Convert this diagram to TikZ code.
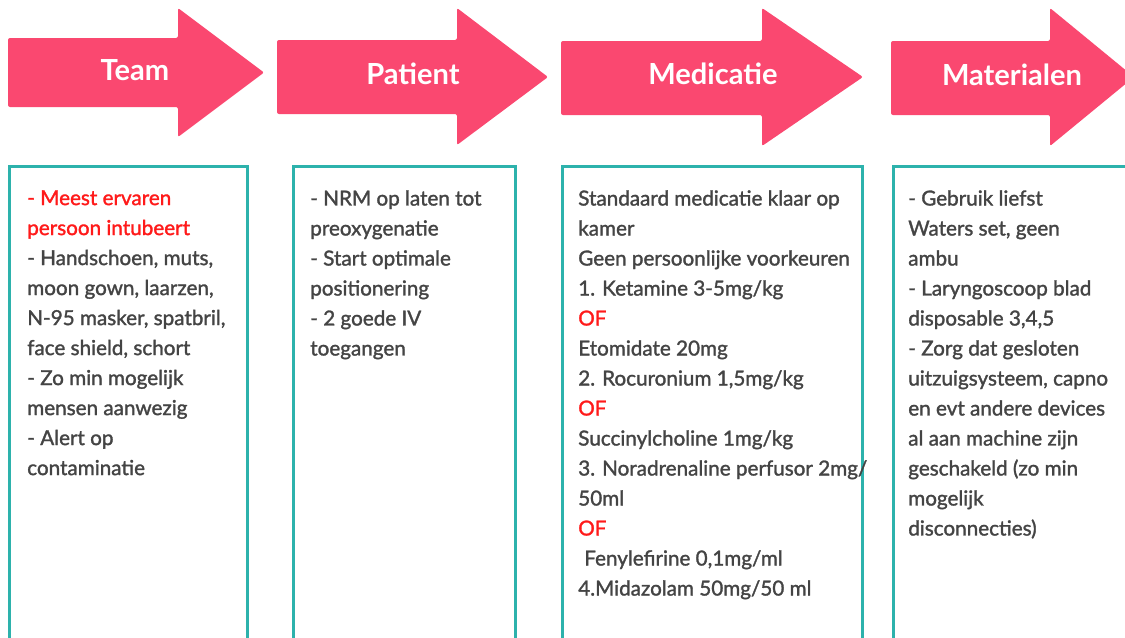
\documentclass[tikz,border=0pt]{standalone}
\usepackage{fontspec}
\setmainfont{Lato}
\newfontfamily\lijstfont{Lato}[FakeBold=1.5]
\usetikzlibrary{positioning}

\definecolor{pijl}{HTML}{FA4870}
\definecolor{kader}{HTML}{2DB2AC}
\definecolor{tekst}{HTML}{444444}
\definecolor{nadruk}{HTML}{FF1A1A}

\begin{document}
\begin{tikzpicture}[x=0.75pt, y=-0.75pt,
			stap/.style={fill=pijl, rounded corners=1.5pt},
			titel/.style={text=white, font=\bfseries\fontsize{21.8}{26}\selectfont, inner sep=0pt},
			kolom/.style={draw=kader, line width=2.25pt},
			lijst/.style={anchor=north west, align=left, text=tekst, inner sep=0pt,
				font=\lijstfont\fontsize{15.5}{22.5}\selectfont},
			]
			\useasboundingbox (0,0) rectangle (1125,637);
			\clip (0,0) rectangle (1125,637);
			
			%% ── Pijlen bovenaan ─────────────────────────────────────────────
			\fill[stap] (8,38) -- (178,38) -- (178,8) -- (264,72.5) -- (178,137) -- (178,107) -- (8,107) -- cycle;
			\fill[stap] (277,40) -- (457,40) -- (457,8) -- (548,77) -- (457,145) -- (457,114) -- (277,114) -- cycle;
			\fill[stap] (561,41) -- (762,41) -- (762,8) -- (863,77) -- (762,146) -- (762,115) -- (561,115) -- cycle;
			\fill[stap] (891,41) -- (1050,41) -- (1050,8) -- (1134,77) -- (1050,146) -- (1050,115) -- (891,115) -- cycle;
			
			\node[titel] (team)  at (135,70) {Team};
			\node[titel] (pat)   at (413,74) {Patient};
			\node[titel] (med)   at (713,74) {Medicatie};
			\node[titel] (mat)   at (1012,75) {Materialen};
			
			%% ── Kolommen ────────────────────────────────────────────────────
			\draw[kolom] (9,166) rectangle (247,680);
			\draw[kolom] (293,166) rectangle (515,680);
			\draw[kolom] (562,166) rectangle (862,680);
			\draw[kolom] (893,166) rectangle (1160,680);
			
			\node[lijst] (t1) at (27,190) {%
				\textcolor{nadruk}{- Meest ervaren}\\
				\textcolor{nadruk}{persoon intubeert}\\
				- Handschoen, muts,\\
				moon gown, laarzen,\\
				N-95 masker, spatbril,\\
				face shield, schort\\
				- Zo min mogelijk\\
				mensen aanwezig\\
				- Alert op\\
				contaminatie};
			
			\node[lijst] (t2) at (310,190) {%
				- NRM op laten tot\\
				preoxygenatie\\
				- Start optimale\\
				positionering\\
				- 2 goede IV\\
				toegangen};
			
			\node[lijst] (t3) at (578,190) {%
				Standaard medicatie klaar op\\
				kamer\\
				Geen persoonlijke voorkeuren\\
				1. Ketamine 3-5mg/kg\\
				\textcolor{nadruk}{OF}\\
				Etomidate 20mg\\
				2. Rocuronium 1,5mg/kg\\
				\textcolor{nadruk}{OF}\\
				Succinylcholine 1mg/kg\\
				3. Noradrenaline perfusor 2mg/\\
				50ml\\
				\textcolor{nadruk}{OF}\\
				\hspace{4.5pt}Fenylefirine 0,1mg/ml\\
				4.Midazolam 50mg/50 ml};
			
			\node[lijst] (t4) at (908,190) {%
				- Gebruik liefst\\
				Waters set, geen\\
				ambu\\
				- Laryngoscoop blad\\
				disposable 3,4,5\\
				- Zorg dat gesloten\\
				uitzuigsysteem, capno\\
				en evt andere devices\\
				al aan machine zijn\\
				geschakeld (zo min\\
				mogelijk\\
				disconnecties)};
			
		\end{tikzpicture}
\end{document}
